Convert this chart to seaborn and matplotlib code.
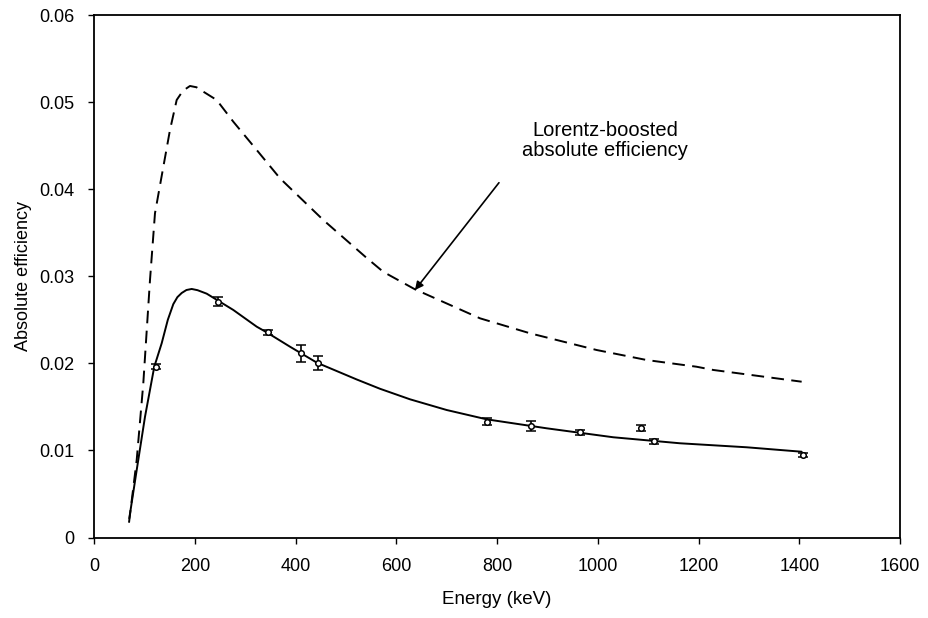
import numpy as np
import pandas as pd
import matplotlib
matplotlib.use("Agg")
import matplotlib.pyplot as plt
import seaborn as sns

# Measured absolute efficiency (Eu-152 lines)
energy_pts = [121.8, 244.7, 344.3, 411.1, 444.0, 778.9, 867.4, 964.1, 1085.8, 1112.1, 1408.0]
eff_pts = [0.0196, 0.0271, 0.02356, 0.02115, 0.02007, 0.0133, 0.0128, 0.01208, 0.01254, 0.01105, 0.00947]
eff_err = [0.0003, 0.0005, 0.00027, 0.00094, 0.0008, 0.00038, 0.00054, 0.00029, 0.00036, 0.0003, 0.00027]

# Fitted efficiency curve (solid)
fit_energy = [69.5, 84.2, 100.7, 119.1, 133.8, 146, 156.9, 165, 173.6, 183, 193.4, 205, 223.2, 276,
              322.5, 342.3, 388.6, 442.2, 521, 567.3, 626.9, 699.8, 779.2, 898.3, 1030.6, 1163,
              1295.5, 1404.7]
fit_eff = [0.0022, 0.00775, 0.01387, 0.01961, 0.0223, 0.0250, 0.0268, 0.0276, 0.02808, 0.02842,
           0.02854, 0.02840, 0.02800, 0.02613, 0.02421, 0.02356, 0.02191, 0.02007, 0.01815,
           0.01708, 0.01587, 0.01464, 0.01357, 0.01254, 0.01151, 0.01082, 0.01036, 0.00985]

# Lorentz-boosted absolute efficiency (dashed)
boost_energy = [68.9, 84.2, 97.3, 110.6, 120.5, 133.8, 150.3, 163.6, 176, 190, 203, 216.4, 243, 276,
                322.5, 368.7, 454.7, 540.9, 574, 636.8, 765.9, 865.2, 997.6, 1097, 1196, 1229,
                1404.7]
boost_eff = [0.0017, 0.0089, 0.0177, 0.02957, 0.03723, 0.04151, 0.0468, 0.05024, 0.0513, 0.05185,
             0.0517, 0.0512, 0.05024, 0.04775, 0.0445, 0.04125, 0.03646, 0.0321, 0.0305, 0.0285,
             0.02517, 0.02345, 0.02153, 0.02038, 0.01961, 0.01924, 0.01789]

x_ticks = [0, 200, 400, 600, 800, 1000, 1200, 1400, 1600]
y_ticks = [0, 0.01, 0.02, 0.03, 0.04, 0.05, 0.06]
y_ticklabels = ["0", "0.01", "0.02", "0.03", "0.04", "0.05", "0.06"]

sns.set_theme(style="ticks")
plt.rcParams['font.family'] = ['Liberation Sans', 'DejaVu Sans']

fig = plt.figure(figsize=(9.29, 6.18), dpi=100)
ax = fig.add_axes([94.3 / 929, 1 - 537.5 / 618, 805.7 / 929, 522.5 / 618])

fit_df = pd.DataFrame({"Energy": fit_energy, "Eff": fit_eff})
boost_df = pd.DataFrame({"Energy": boost_energy, "Eff": boost_eff})

sns.lineplot(data=fit_df, x="Energy", y="Eff", ax=ax, color="black", lw=1.4,
             sort=False, estimator=None)
sns.lineplot(data=boost_df, x="Energy", y="Eff", ax=ax, color="black", lw=1.4,
             sort=False, estimator=None, dashes=False)
ax.lines[-1].set_dashes((6.5, 3.8))
for ln in ax.lines:
    ln.set_solid_joinstyle("round")
    ln.set_dash_joinstyle("round")

ax.errorbar(energy_pts, eff_pts, yerr=eff_err, fmt="o", ms=4, mfc="white", mec="black",
            mew=1.1, ecolor="black", elinewidth=1.2, capsize=3.8, capthick=1.3, zorder=5)

ax.set_xlim(0, 1600)
ax.set_ylim(0, 0.06)
ax.set_xticks(x_ticks)
ax.set_xticklabels([str(t) for t in x_ticks])
ax.set_yticks(y_ticks)
ax.set_yticklabels(y_ticklabels)

for s in ax.spines.values():
    s.set_visible(True)
    s.set_color("black")
    s.set_linewidth(1.3)

ax.tick_params(axis="both", direction="out", length=4, width=1, colors="black",
               labelsize=13)
ax.tick_params(axis="x", pad=11)
ax.tick_params(axis="y", pad=10)

ax.set_xlabel("Energy (keV)", fontsize=13.5, color="black")
ax.set_ylabel("Absolute efficiency", fontsize=13, color="black")
ax.xaxis.set_label_coords(0.5, -0.102)
ax.xaxis.label.set_va("top")
ax.yaxis.set_label_coords(-0.077, 0.5)

ax.annotate("", xy=(636.8, 0.02842), xytext=(803.6, 0.04074),
            arrowprops=dict(arrowstyle="-|>", color="black", lw=1.2,
                            mutation_scale=12, shrinkA=0, shrinkB=0))
ax.text(1014, 0.0456, "Lorentz-boosted\nabsolute efficiency", ha="center", va="center",
        fontsize=14.5, color="black", linespacing=1.1)

ax.set_facecolor("white")
fig.patch.set_facecolor("white")
fig.savefig("out.png", dpi=100)
